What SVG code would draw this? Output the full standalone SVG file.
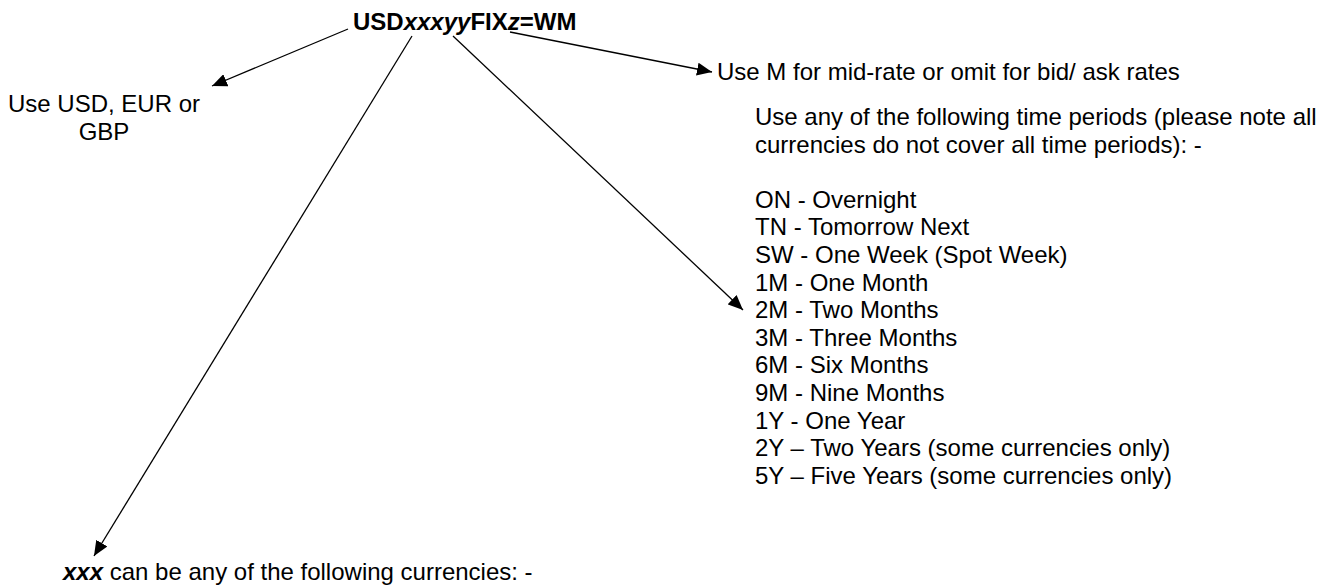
<svg xmlns="http://www.w3.org/2000/svg" width="1322" height="586" viewBox="0 0 1322 586">
<style>
  text { font-family: "Liberation Sans", Arial, sans-serif; font-size: 24px; fill: #000; }
  .b { font-weight: bold; }
  .bi { font-weight: bold; font-style: italic; }
  .conn { stroke: #000; stroke-width: 1.3; fill: none; marker-end: url(#arrow); }
</style>
<defs>
  <marker id="arrow" markerUnits="userSpaceOnUse" markerWidth="16" markerHeight="13" refX="15" refY="6.5" orient="auto">
    <path d="M0,0 L15,6.5 L0,13 Z" fill="#000"/>
  </marker>
</defs>
<rect width="1322" height="586" fill="#fff"/>
<g id="connectors">
  <line class="conn" x1="348" y1="29" x2="212" y2="86"/>
  <line class="conn" x1="412" y1="36" x2="94" y2="556"/>
  <line class="conn" x1="453" y1="36" x2="743" y2="310"/>
  <line class="conn" x1="510" y1="32" x2="712" y2="72"/>
</g>
<g id="title">
  <text x="353" y="30" class="b">USD<tspan class="bi">xxxyy</tspan>FIX<tspan class="bi">z</tspan>=WM</text>
</g>
<g id="base-currency">
  <text x="104" y="112" text-anchor="middle">Use USD, EUR or</text>
  <text x="104" y="139.6" text-anchor="middle">GBP</text>
</g>
<g id="mid-rate">
  <text x="717" y="80">Use M for mid-rate or omit for bid/ ask rates</text>
</g>
<g id="time-periods">
  <text x="755" y="125">Use any of the following time periods (please note all</text>
  <text x="755" y="152.6">currencies do not cover all time periods): -</text>
  <text x="755" y="207.8">ON - Overnight</text>
  <text x="755" y="235.4">TN - Tomorrow Next</text>
  <text x="755" y="263">SW - One Week (Spot Week)</text>
  <text x="755" y="290.6">1M - One Month</text>
  <text x="755" y="318.2">2M - Two Months</text>
  <text x="755" y="345.8">3M - Three Months</text>
  <text x="755" y="373.4">6M - Six Months</text>
  <text x="755" y="401">9M - Nine Months</text>
  <text x="755" y="428.6">1Y - One Year</text>
  <text x="755" y="456.2">2Y – Two Years (some currencies only)</text>
  <text x="755" y="483.8">5Y – Five Years (some currencies only)</text>
</g>
<g id="currencies">
  <text x="63" y="580"><tspan class="bi">xxx</tspan> can be any of the following currencies: -</text>
</g>
</svg>
